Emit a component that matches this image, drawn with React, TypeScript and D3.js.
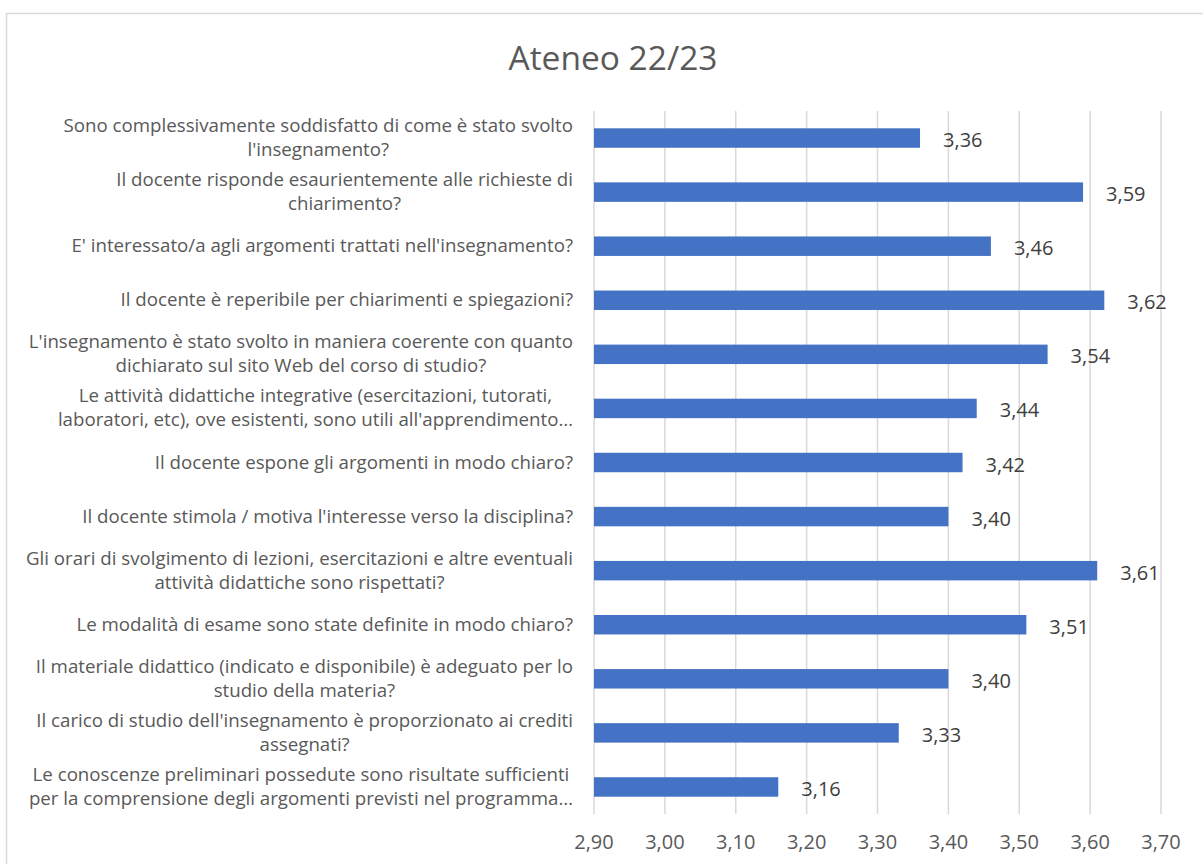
import React from "react";
import * as d3 from "d3";

const categories: string[][] = [
  ["Sono complessivamente soddisfatto di come è stato svolto", "l'insegnamento?"],
  ["Il docente risponde esaurientemente alle richieste di", "chiarimento?"],
  ["E' interessato/a agli argomenti trattati nell'insegnamento?"],
  ["Il docente è reperibile per chiarimenti e spiegazioni?"],
  ["L'insegnamento è stato svolto in maniera coerente con quanto", "dichiarato sul sito Web del corso di studio?"],
  ["Le attività didattiche integrative (esercitazioni, tutorati,", "laboratori, etc), ove esistenti, sono utili all'apprendimento…"],
  ["Il docente espone gli argomenti in modo chiaro?"],
  ["Il docente stimola / motiva l'interesse verso la disciplina?"],
  ["Gli orari di svolgimento di lezioni, esercitazioni e altre eventuali", "attività didattiche sono rispettati?"],
  ["Le modalità di esame sono state definite in modo chiaro?"],
  ["Il materiale didattico (indicato e disponibile) è adeguato per lo", "studio della materia?"],
  ["Il carico di studio dell'insegnamento è proporzionato ai crediti", "assegnati?"],
  ["Le conoscenze preliminari possedute sono risultate sufficienti", "per la comprensione degli argomenti previsti nel programma…"],
];
const values: number[] = [3.36, 3.59, 3.46, 3.62, 3.54, 3.44, 3.42, 3.40, 3.61, 3.51, 3.40, 3.33, 3.16];
const ticks: number[] = [2.9, 3.0, 3.1, 3.2, 3.3, 3.4, 3.5, 3.6, 3.7];
const title = "Ateneo 22/23";

const FONT = "'Open Sans', sans-serif";
const CAT_SIZE = 18.7;

let ctx: CanvasRenderingContext2D | null = null;
function measure(text: string, size: number): number {
  if (!ctx) ctx = document.createElement("canvas").getContext("2d");
  if (!ctx) return text.length * size * 0.53;
  ctx.font = `${size}px 'Open Sans'`;
  return ctx.measureText(text).width;
}

const fmt = (v: number) => v.toFixed(2).replace(".", ",");

export default function App() {
  const x = d3.scaleLinear().domain([2.9, 3.7]).range([594, 1161]);
  const keys = categories.map((_, i) => String(i));
  const y = d3.scaleBand<string>().domain(keys).range([111, 814]).paddingInner(0.64).paddingOuter(0.32);
  const labelRight = 573;
  const lineH = 24;

  return (
    <svg
      width={1203}
      height={864}
      style={{ position: "absolute", left: 0, top: 0, background: "#fff" }}
      fontFamily={FONT}
    >
      <rect x={6.5} y={13.5} width={1210} height={900} fill="#fff" stroke="#d9d9d9" strokeWidth={1.5} />
      <text x={613} y={70} textAnchor="middle" fontSize={33.5} fill="#595959">
        {title}
      </text>
      {ticks.map((t) => (
        <line key={"g" + t} x1={x(t)} x2={x(t)} y1={111} y2={814} stroke="#d9d9d9" strokeWidth={1.5} />
      ))}
      {ticks.map((t) => (
        <text key={"t" + t} x={x(t)} y={849} textAnchor="middle" fontSize={20} fill="#595959">
          {fmt(t)}
        </text>
      ))}
      {values.map((v, i) => {
        const yy = y(String(i))!;
        return (
          <g key={"b" + i}>
            <rect x={x(2.9)} y={yy} width={x(v) - x(2.9)} height={y.bandwidth()} fill="#4472C4" />
            <text x={x(v) + 23} y={yy + y.bandwidth() / 2 + 9} fontSize={20} fill="#404040">
              {fmt(v)}
            </text>
          </g>
        );
      })}
      {categories.map((lines, i) => {
        const cy = y(String(i))! + y.bandwidth() / 2;
        const maxW = Math.max(...lines.map((l) => measure(l, CAT_SIZE)));
        const cx = labelRight - maxW / 2;
        const n = lines.length;
        return (
          <text key={"c" + i} fontSize={CAT_SIZE} fill="#595959" textAnchor="middle">
            {lines.map((l, j) => (
              <tspan key={j} x={cx} y={cy + (j - (n - 1) / 2) * lineH + 6}>
                {l}
              </tspan>
            ))}
          </text>
        );
      })}
    </svg>
  );
}
